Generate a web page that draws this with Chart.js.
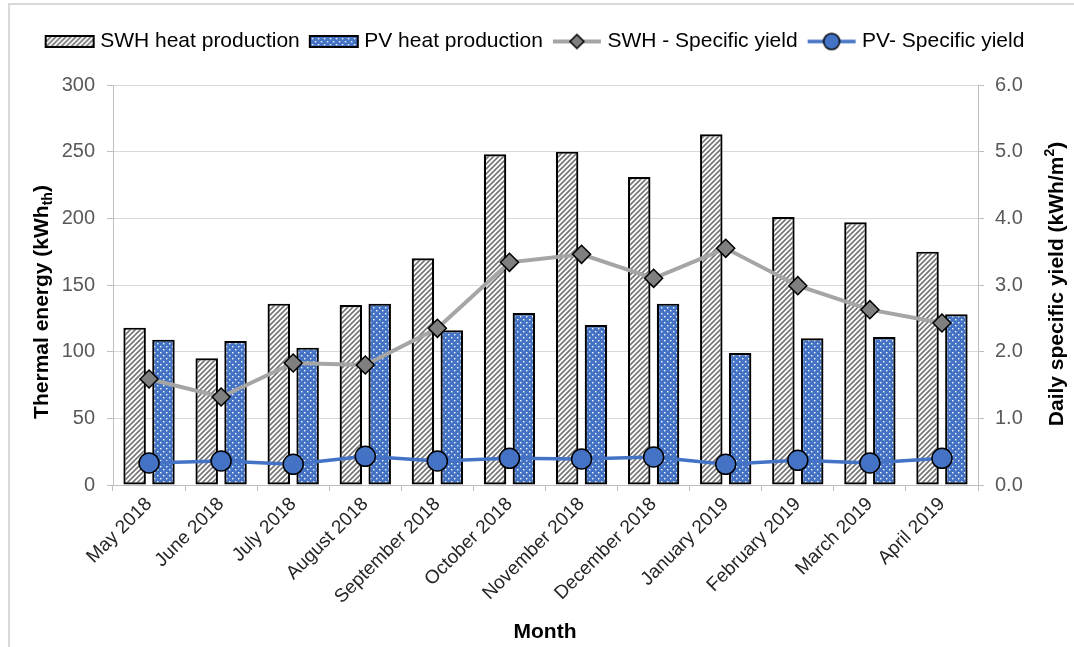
<!DOCTYPE html>
<html>
<head>
<meta charset="utf-8">
<script src="https://cdn.jsdelivr.net/npm/chart.js@4.4.1/dist/chart.umd.min.js"></script>
<style>
  html, body { margin: 0; padding: 0; background: #fff; }
  #wrap { width: 1074px; height: 647px; position: relative; }
</style>
</head>
<body>
<div id="wrap"><canvas id="chart"></canvas></div>
<script>
// Data
const months = ['May 2018', 'June 2018', 'July 2018', 'August 2018', 'September 2018', 'October 2018',
  'November 2018', 'December 2018', 'January 2019', 'February 2019', 'March 2019', 'April 2019'];
const swhHeat = [118, 95, 136, 135, 170, 248, 250, 231, 263, 201, 197, 175];
const pvHeat = [109, 108, 103, 136, 116, 129, 120, 136, 99, 110, 111, 128];
const swhYield = [1.59, 1.32, 1.83, 1.80, 2.35, 3.34, 3.46, 3.10, 3.55, 2.99, 2.63, 2.43];
const pvYield = [0.33, 0.36, 0.31, 0.43, 0.36, 0.40, 0.39, 0.42, 0.31, 0.37, 0.33, 0.40];
const seriesNames = ['SWH heat production', 'PV heat production', 'SWH - Specific yield', 'PV- Specific yield'];

const FONT = "'Liberation Sans', Arial, sans-serif";
const BLUE = '#4472c4';

// hatch pattern: white with grey diagonal lines
const makeHatch = () => {
  const c = document.createElement('canvas');
  c.width = 5; c.height = 5;
  const g = c.getContext('2d');
  g.fillStyle = '#fff';
  g.fillRect(0, 0, 5, 5);
  g.strokeStyle = '#777';
  g.lineWidth = 1.7;
  g.beginPath();
  g.moveTo(-1, 6); g.lineTo(6, -1);
  g.moveTo(-1, 1); g.lineTo(1, -1);
  g.moveTo(4, 6); g.lineTo(6, 4);
  g.stroke();
  return c;
};

// dotted pattern: blue with small white dots, staggered
const makeDots = () => {
  const c = document.createElement('canvas');
  c.width = 6; c.height = 6;
  const g = c.getContext('2d');
  g.fillStyle = BLUE;
  g.fillRect(0, 0, 6, 6);
  g.fillStyle = '#fff';
  g.fillRect(1, 1, 1.4, 1.4);
  g.fillRect(4, 4, 1.4, 1.4);
  return c;
};

const ctx = document.getElementById('chart').getContext('2d');
const hatchFill = ctx.createPattern(makeHatch(), 'repeat');
const dotFill = ctx.createPattern(makeDots(), 'repeat');

// legend symbols
const boxIcon = (fill) => {
  const c = document.createElement('canvas');
  c.width = 52; c.height = 15;
  const g = c.getContext('2d');
  g.fillStyle = fill;
  g.fillRect(2, 2, 48, 11);
  g.strokeStyle = '#000';
  g.lineWidth = 2;
  g.strokeRect(2, 2, 48, 11);
  return c;
};
const lineIcon = (color, width, marker) => {
  const c = document.createElement('canvas');
  c.width = 52; c.height = 22;
  const g = c.getContext('2d');
  g.strokeStyle = color;
  g.lineWidth = width;
  g.beginPath(); g.moveTo(2, 11); g.lineTo(50, 11); g.stroke();
  g.strokeStyle = '#000';
  g.lineWidth = 1.5;
  g.beginPath();
  if (marker === 'diamond') {
    g.fillStyle = '#7f7f7f';
    g.moveTo(26, 4); g.lineTo(33, 11); g.lineTo(26, 18); g.lineTo(19, 11); g.closePath();
  } else {
    g.fillStyle = BLUE;
    g.arc(26, 11, 8, 0, Math.PI * 2);
  }
  g.fill(); g.stroke();
  return c;
};
const legendIcons = [boxIcon(hatchFill), boxIcon(dotFill), lineIcon('#a5a5a5', 4, 'diamond'), lineIcon(BLUE, 3.5, 'circle')];

// extra space under the legend
const legendGap = {
  id: 'legendGap',
  beforeLayout(chart) {
    const lg = chart.legend;
    if (!lg || lg._gapPatched) return;
    const fit = lg.fit;
    lg.fit = function () { fit.call(this); this.height += 23; };
    lg._gapPatched = true;
  }
};

// frame, axis titles
const decorations = {
  id: 'decorations',
  beforeDraw(chart) {
    const g = chart.ctx;
    g.save();
    g.fillStyle = '#fff';
    g.fillRect(0, 0, chart.width, chart.height);
    g.strokeStyle = '#d9d9d9';
    g.lineWidth = 2;
    g.strokeRect(9, 4, chart.width + 20, chart.height + 20);
    g.restore();
  },
  afterDraw(chart) {
    const g = chart.ctx;
    const big = `bold 21px ${FONT}`;
    const small = `bold 14px ${FONT}`;
    const drawParts = (parts, cx, cy) => {
      let total = 0;
      parts.forEach(p => { g.font = p.font; total += g.measureText(p.text).width; });
      let x = cx - total / 2;
      parts.forEach(p => {
        g.font = p.font;
        g.fillText(p.text, x, cy + p.dy);
        x += g.measureText(p.text).width;
      });
    };
    g.save();
    g.fillStyle = '#000';
    g.textBaseline = 'middle';
    g.textAlign = 'left';

    g.save();
    g.translate(42, 302);
    g.rotate(-Math.PI / 2);
    drawParts([{ text: 'Thermal energy (kWh', font: big, dy: 0 }, { text: 'th', font: small, dy: 6 }, { text: ')', font: big, dy: 0 }], 0, 0);
    g.restore();

    g.save();
    g.translate(1057, 284);
    g.rotate(-Math.PI / 2);
    drawParts([{ text: 'Daily specific yield (kWh/m', font: big, dy: 0 }, { text: '2', font: small, dy: -7 }, { text: ')', font: big, dy: 0 }], 0, 0);
    g.restore();

    drawParts([{ text: 'Month', font: big, dy: 0 }], 545, 632);
    g.restore();
  }
};

new Chart(ctx, {
  type: 'bar',
  data: {
    labels: months,
    datasets: [
      { label: seriesNames[0], data: swhHeat, backgroundColor: hatchFill, borderColor: '#000', borderWidth: 2.2,
        borderSkipped: false, yAxisID: 'y', order: 2, categoryPercentage: 0.8, barPercentage: 0.78 },
      { label: seriesNames[1], data: pvHeat, backgroundColor: dotFill, borderColor: '#000', borderWidth: 2.2,
        borderSkipped: false, yAxisID: 'y', order: 2, categoryPercentage: 0.8, barPercentage: 0.78 },
      { type: 'line', label: seriesNames[2], data: swhYield, yAxisID: 'y1', order: 1,
        borderColor: '#a5a5a5', borderWidth: 4, pointStyle: 'rectRot', pointRadius: 9,
        pointBackgroundColor: '#7f7f7f', pointBorderColor: '#000', pointBorderWidth: 1.5 },
      { type: 'line', label: seriesNames[3], data: pvYield, yAxisID: 'y1', order: 0,
        borderColor: BLUE, borderWidth: 3.5, pointStyle: 'circle', pointRadius: 10,
        pointBackgroundColor: BLUE, pointBorderColor: '#000', pointBorderWidth: 1.5 }
    ]
  },
  options: {
    responsive: true,
    maintainAspectRatio: false,
    animation: false,
    layout: { padding: { top: 17, left: 0, right: 0, bottom: 0 } },
    scales: {
      x: {
        offset: true,
        grid: { offset: true, drawOnChartArea: false, drawTicks: true, tickLength: 6, color: '#bfbfbf' },
        border: { color: '#bfbfbf' },
        ticks: { minRotation: 45, maxRotation: 45, padding: 2, color: '#262626', font: { family: FONT, size: 19 } },
        afterFit: (s) => { s.height = 162; }
      },
      y: {
        position: 'left',
        min: 0, max: 300,
        ticks: { stepSize: 50, padding: 12, color: '#595959', font: { family: FONT, size: 20 } },
        grid: { color: '#d9d9d9', tickColor: '#bfbfbf', tickLength: 6 },
        border: { color: '#bfbfbf' },
        afterFit: (s) => { s.width = 113; }
      },
      y1: {
        position: 'right',
        min: 0, max: 6,
        ticks: { stepSize: 1, padding: 11, color: '#595959', font: { family: FONT, size: 20 },
          callback: (v) => Number(v).toFixed(1) },
        grid: { drawOnChartArea: false, tickColor: '#bfbfbf', tickLength: 6 },
        border: { color: '#bfbfbf' },
        afterFit: (s) => { s.width = 96; }
      }
    },
    plugins: {
      tooltip: { enabled: false },
      legend: {
        position: 'top',
        labels: {
          usePointStyle: true,
          pointStyleWidth: 40,
          padding: 14,
          color: '#262626',
          font: { family: FONT, size: 21 },
          generateLabels: (chart) => chart.data.datasets.map((ds, i) => ({
            text: ds.label,
            pointStyle: legendIcons[i],
            fillStyle: 'transparent',
            strokeStyle: 'transparent',
            lineWidth: 0,
            hidden: false,
            datasetIndex: i
          }))
        }
      }
    }
  },
  plugins: [legendGap, decorations]
});
</script>
</body>
</html>
